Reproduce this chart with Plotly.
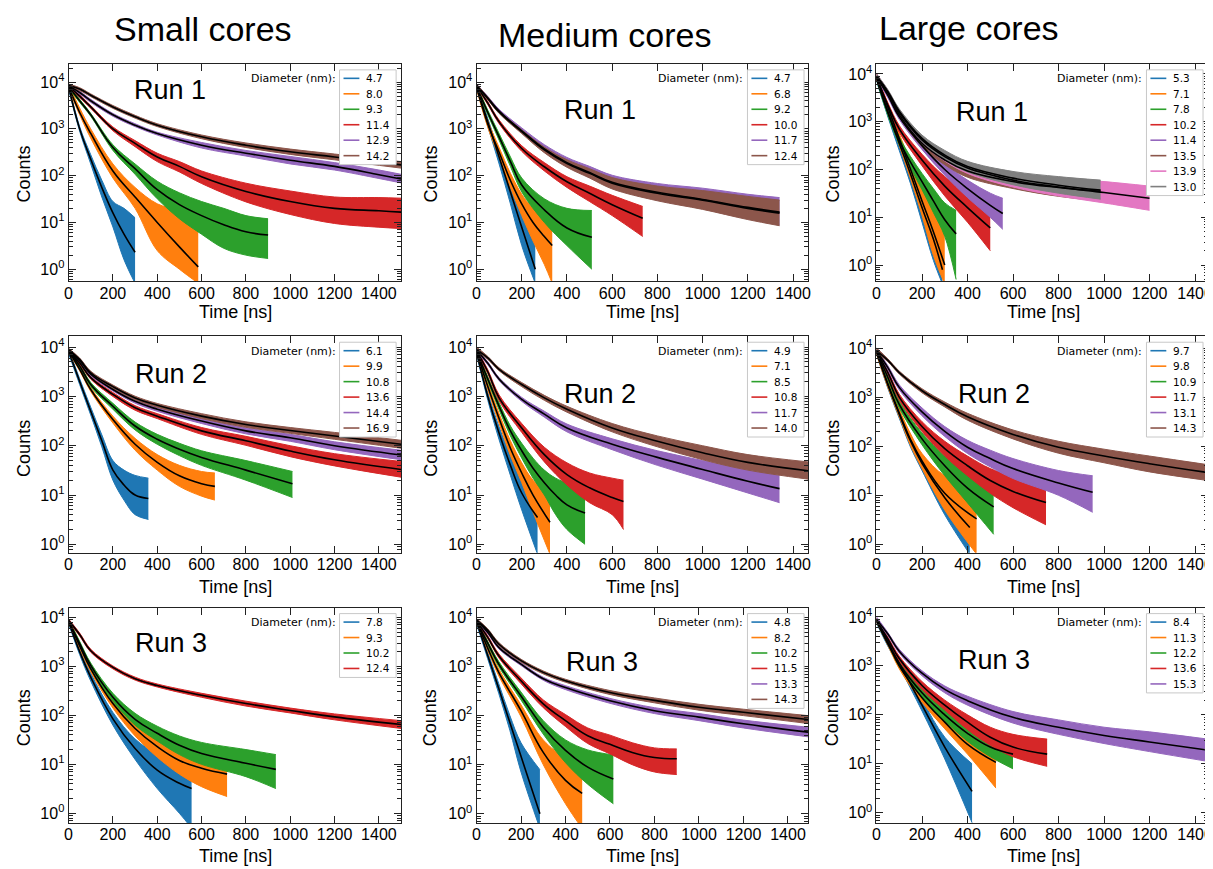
import plotly.graph_objects as go

W, H = 1213, 869
COLORS = ["#1f77b4", "#ff7f0e", "#2ca02c", "#d62728", "#9467bd", "#8c564b", "#e377c2", "#7f7f7f"]

# ---------------- Small cores, Run 1 ----------------
SMALL1_LABELS = ["4.7", "8.0", "9.3", "11.4", "12.9", "14.2"]
SMALL1_T = [
    [0, 50, 100, 150, 200, 250, 300],
    [0, 50, 100, 200, 300, 400, 500, 585],
    [0, 50, 100, 200, 300, 400, 500, 600, 700, 800, 900],
    [0, 50, 100, 200, 300, 400, 500, 600, 800, 1000, 1200, 1400, 1500],
    [0, 50, 100, 200, 300, 400, 600, 800, 1000, 1200, 1400, 1500],
    [0, 50, 100, 200, 300, 400, 600, 800, 1000, 1200, 1500],
]
SMALL1_FIT = [
    [8000, 1000, 224, 56, 16, 5.6, 2.3],
    [8000, 2240, 800, 126, 35, 10, 3.0, 1.12],
    [8000, 4000, 2000, 400, 141, 50, 24, 14, 8.9, 6.3, 5.4],
    [8300, 5000, 2950, 1000, 490, 251, 158, 95, 46, 28, 20, 17.8, 16.6],
    [8300, 6000, 4000, 2000, 1200, 794, 447, 302, 214, 158, 105, 85],
    [8500, 7100, 5250, 2950, 1820, 1200, 676, 447, 324, 251, 170],
]
SMALL1_HI = [
    [8900, 1120, 280, 80, 28, 20, 12.6],
    [8900, 2800, 1000, 178, 56, 25, 18, 12.6],
    [8500, 4300, 2140, 457, 178, 76, 43, 28, 20, 14, 12],
    [8900, 5400, 3160, 1100, 562, 302, 200, 126, 69, 47, 35, 34, 33],
    [8900, 6400, 4300, 2140, 1290, 850, 512, 346, 257, 190, 132, 107],
    [9100, 7600, 5600, 3160, 1950, 1290, 740, 500, 370, 290, 200],
]
SMALL1_LO = [
    [7100, 890, 178, 35, 8, 1.6, 0.5],
    [7100, 2000, 630, 89, 20, 2.5, 1.0, 0.5],
    [7400, 3700, 1860, 347, 107, 32, 12, 5.6, 2.8, 2.0, 1.7],
    [7800, 4700, 2750, 912, 417, 200, 120, 68, 27.5, 14.8, 9.5, 7.9, 7.4],
    [7800, 5600, 3700, 1860, 1120, 740, 390, 263, 178, 132, 87, 70],
    [7900, 6600, 4900, 2750, 1700, 1120, 617, 400, 285, 218, 145],
]

# ---------------- Medium cores, Run 1 ----------------
MEDIUM1_LABELS = ["4.7", "6.8", "9.2", "10.0", "11.7", "12.4"]
MEDIUM1_T = [
    [0, 50, 100, 150, 200, 260],
    [0, 50, 100, 150, 200, 250, 300, 335],
    [0, 50, 100, 150, 200, 300, 400, 510],
    [0, 50, 100, 200, 300, 400, 500, 600, 735],
    [0, 50, 100, 200, 300, 400, 500, 600, 800, 1000, 1200, 1340],
    [0, 50, 100, 200, 300, 400, 500, 600, 800, 1000, 1200, 1340],
]
MEDIUM1_FIT = [
    [8000, 1410, 251, 45, 7.9, 1.0],
    [8000, 1260, 316, 79, 25, 10, 5, 3.2],
    [8000, 2240, 676, 200, 63, 18.6, 7.6, 4.8],
    [8300, 3550, 1410, 380, 155, 74, 42, 24, 12.3],
    [8500, 4570, 2400, 912, 372, 190, 117, 72, 44, 31, 21, 16.6],
    [8500, 4470, 2290, 871, 355, 182, 112, 69, 42, 30, 20, 15.8],
]
MEDIUM1_HI = [
    [8900, 1660, 316, 63, 16, 5],
    [8900, 1480, 400, 112, 40, 20, 14, 12.6],
    [8900, 2500, 794, 251, 89, 32, 20, 18],
    [8900, 3800, 1550, 437, 190, 95, 60, 38, 22],
    [9100, 4950, 2620, 1050, 460, 245, 158, 102, 68, 54, 40, 34],
    [9100, 4800, 2450, 955, 407, 219, 141, 91, 60, 48, 36, 30],
]
MEDIUM1_LO = [
    [7100, 1120, 178, 25, 3.2, 0.5],
    [7100, 1070, 251, 56, 14, 4, 1.26, 0.5],
    [7100, 2000, 575, 158, 45, 10, 3.2, 1.0],
    [7800, 3300, 1290, 331, 126, 56, 28, 14, 5],
    [7900, 4270, 2240, 832, 324, 158, 93, 55, 30, 20, 12, 8.9],
    [7900, 4170, 2140, 794, 309, 151, 89, 52, 29, 19, 11.5, 8.5],
]

# ---------------- Large cores, Run 1 ----------------
LARGE1_LABELS = ["5.3", "7.1", "7.8", "10.2", "11.4", "13.5", "13.9", "13.0"]
LARGE1_T = [
    [0, 50, 100, 150, 200, 250, 290],
    [0, 50, 100, 150, 200, 250, 300],
    [0, 50, 100, 150, 200, 250, 300, 350],
    [0, 50, 100, 200, 300, 400, 500],
    [0, 50, 100, 200, 300, 400, 500, 555],
    [0, 50, 100, 200, 300, 400, 600, 800, 985],
    [0, 50, 100, 200, 300, 400, 600, 800, 1000, 1200],
    [0, 50, 100, 200, 300, 400, 600, 800, 985],
]
LARGE1_FIT = [
    [8000, 1580, 355, 79, 16, 3.5, 0.8],
    [8900, 2000, 447, 100, 22, 5, 1.0],
    [8300, 1580, 398, 141, 56, 22, 8.9, 4.5],
    [8300, 2240, 708, 158, 45, 16, 6],
    [8500, 3550, 1260, 316, 100, 40, 17.8, 12],
    [8900, 4000, 1410, 355, 158, 93, 56, 42, 35],
    [8900, 4170, 1580, 417, 186, 107, 60, 43, 33, 25],
    [8900, 4270, 1660, 447, 200, 115, 66, 47, 37],
]
LARGE1_HI = [
    [8900, 1860, 447, 112, 28, 10, 4],
    [10000, 2340, 562, 141, 40, 14, 5],
    [9300, 1860, 479, 186, 83, 40, 20, 14],
    [9300, 2500, 832, 209, 71, 32, 16],
    [9300, 4000, 1410, 380, 132, 60, 32, 25],
    [10000, 4370, 1580, 417, 200, 126, 79, 63, 56],
    [10000, 4570, 1780, 490, 229, 138, 85, 66, 56, 45],
    [10000, 4680, 1860, 525, 251, 148, 91, 71, 60],
]
LARGE1_LO = [
    [7100, 1260, 251, 50, 7.9, 1.26, 0.4],
    [7900, 1580, 316, 63, 11, 1.6, 0.4],
    [7400, 1350, 331, 107, 38, 12.6, 4, 0.5],
    [7400, 2000, 603, 120, 28, 7.9, 2],
    [7800, 3160, 1120, 263, 76, 26, 10, 5.6],
    [7900, 3630, 1260, 302, 126, 69, 40, 27.5, 22],
    [7900, 3800, 1410, 355, 151, 83, 43, 28, 20, 14],
    [7900, 3890, 1480, 380, 158, 89, 48, 32, 24],
]

# ---------------- Small cores, Run 2 ----------------
SMALL2_LABELS = ["6.1", "9.9", "10.8", "13.6", "14.4", "16.9"]
SMALL2_T = [
    [0, 50, 100, 150, 200, 250, 300, 360],
    [0, 50, 100, 200, 300, 400, 500, 600, 660],
    [0, 50, 100, 200, 300, 400, 500, 600, 800, 1010],
    [0, 50, 100, 200, 300, 400, 600, 800, 1000, 1200, 1500],
    [0, 50, 100, 200, 300, 400, 600, 800, 1000, 1200, 1500],
    [0, 50, 100, 200, 300, 400, 600, 800, 1000, 1200, 1500],
]
SMALL2_FIT = [
    [8300, 2000, 501, 126, 32, 16, 10, 8.5],
    [8300, 3550, 1380, 339, 107, 46, 24.5, 17, 15],
    [8500, 4170, 1740, 631, 251, 135, 85, 58, 32, 17],
    [8500, 4790, 2400, 1100, 589, 398, 200, 126, 78, 52, 33],
    [8700, 5370, 2820, 1380, 794, 550, 316, 200, 145, 100, 65],
    [8900, 5620, 3020, 1580, 933, 661, 398, 269, 204, 158, 107],
]
SMALL2_HI = [
    [9300, 2290, 603, 166, 50, 32, 25, 22],
    [8900, 3800, 1510, 398, 141, 66, 40, 30, 28],
    [9100, 4470, 1910, 724, 302, 170, 112, 79, 50, 30],
    [9100, 5100, 2570, 1200, 650, 447, 234, 155, 100, 69, 48],
    [9300, 5750, 3020, 1480, 860, 600, 355, 229, 170, 120, 81],
    [9500, 6000, 3240, 1700, 1010, 720, 447, 305, 234, 186, 129],
]
SMALL2_LO = [
    [7400, 1740, 417, 95, 20, 7.9, 4, 3.2],
    [7800, 3310, 1260, 288, 81, 32, 15, 9.5, 7.9],
    [7900, 3890, 1580, 550, 209, 107, 63, 40, 20, 8.9],
    [7900, 4470, 2240, 1000, 525, 355, 170, 102, 60, 39, 23],
    [8100, 5010, 2630, 1290, 730, 500, 282, 174, 123, 83, 52],
    [8300, 5250, 2820, 1470, 860, 603, 355, 236, 178, 135, 89],
]

# ---------------- Medium cores, Run 2 ----------------
MEDIUM2_LABELS = ["4.9", "7.1", "8.5", "10.8", "11.7", "14.0"]
MEDIUM2_T = [
    [0, 50, 100, 150, 200, 270],
    [0, 50, 100, 150, 200, 250, 325],
    [0, 50, 100, 150, 200, 250, 300, 350, 400, 480],
    [0, 50, 100, 200, 300, 400, 500, 600, 650],
    [0, 50, 100, 200, 300, 400, 600, 800, 1000, 1200, 1340],
    [0, 50, 100, 200, 300, 400, 600, 800, 1000, 1200, 1466],
]
MEDIUM2_FIT = [
    [8000, 1000, 178, 40, 11, 3.5],
    [8300, 1580, 355, 89, 28, 10, 2.8],
    [8300, 2240, 631, 200, 79, 35, 17.8, 10, 6.3, 4.3],
    [8500, 3160, 933, 229, 66, 26, 14, 8.9, 7.4],
    [8700, 4680, 2240, 871, 437, 229, 107, 58, 33, 19, 13.5],
    [8900, 6030, 3550, 1740, 933, 550, 229, 123, 72, 46, 31],
]
MEDIUM2_HI = [
    [8900, 1200, 240, 63, 22, 11],
    [9300, 1860, 447, 126, 45, 20, 10],
    [9300, 2500, 741, 251, 112, 56, 32, 22, 17.8, 15.8],
    [9100, 3470, 1070, 282, 93, 45, 28, 22, 20],
    [9300, 5000, 2400, 955, 501, 275, 138, 79, 50, 32, 25],
    [10000, 6460, 3800, 1910, 1050, 631, 282, 158, 100, 66, 47],
]
MEDIUM2_LO = [
    [7100, 832, 132, 25, 5, 0.63],
    [7400, 1350, 282, 63, 17.8, 4.5, 0.63],
    [7400, 2000, 537, 158, 56, 22, 10, 4, 2, 1.0],
    [7900, 2880, 813, 186, 47, 16, 7, 4, 2],
    [8100, 4370, 2090, 794, 380, 191, 83, 40, 21, 11, 7],
    [8300, 5620, 3310, 1580, 832, 479, 191, 95, 52, 32, 21],
]

# ---------------- Large cores, Run 2 ----------------
LARGE2_LABELS = ["9.7", "9.8", "10.9", "11.7", "13.1", "14.3"]
LARGE2_T = [
    [0, 50, 100, 150, 200, 300, 410],
    [0, 50, 100, 150, 200, 300, 440],
    [0, 50, 100, 200, 300, 400, 515],
    [0, 50, 100, 200, 300, 400, 500, 600, 745],
    [0, 50, 100, 200, 300, 400, 500, 600, 800, 950],
    [0, 50, 100, 200, 300, 400, 600, 800, 1000, 1200, 1457],
]
LARGE2_FIT = [
    [8300, 1780, 447, 126, 45, 8.9, 2.2],
    [8300, 1860, 479, 135, 50, 11, 3.3],
    [8500, 2510, 708, 141, 40, 14, 5.8],
    [8500, 3160, 1000, 251, 89, 40, 20, 12, 7.1],
    [8700, 3980, 1580, 501, 200, 95, 56, 35, 17.8, 11.5],
    [8900, 5620, 3160, 1350, 708, 398, 174, 95, 63, 44, 29],
]
LARGE2_HI = [
    [9300, 2090, 537, 166, 63, 20, 10],
    [9300, 2190, 575, 178, 71, 25, 14],
    [9300, 2820, 832, 186, 63, 28, 20],
    [9300, 3470, 1150, 316, 126, 63, 35, 25, 20],
    [9300, 4370, 1780, 603, 251, 132, 83, 56, 32, 25],
    [10000, 6030, 3390, 1480, 794, 468, 214, 126, 87, 63, 42],
]
LARGE2_LO = [
    [7400, 1510, 372, 95, 32, 4, 0.63],
    [7400, 1580, 398, 102, 35, 5, 0.63],
    [7800, 2240, 603, 107, 25, 7, 1.6],
    [7800, 2880, 871, 200, 63, 25, 11, 5.6, 2.5],
    [8100, 3630, 1410, 417, 158, 71, 38, 22, 10, 4.5],
    [7900, 5250, 2950, 1230, 631, 339, 141, 72, 46, 30, 20],
]

# ---------------- Small cores, Run 3 ----------------
SMALL3_LABELS = ["7.8", "9.3", "10.2", "12.4"]
SMALL3_T = [
    [0, 50, 100, 200, 300, 400, 500, 555],
    [0, 50, 100, 200, 300, 400, 500, 600, 715],
    [0, 50, 100, 200, 300, 400, 500, 600, 800, 935],
    [0, 50, 100, 200, 300, 400, 600, 800, 1000, 1200, 1500],
]
SMALL3_FIT = [
    [8300, 2000, 603, 85, 21, 7.6, 4.1, 3.2],
    [8500, 2630, 891, 174, 54, 23, 12, 8.3, 6.3],
    [8500, 2950, 1050, 234, 83, 43, 24.5, 16.6, 10.5, 7.9],
    [8700, 4470, 2090, 955, 562, 407, 257, 174, 126, 93, 65],
]
SMALL3_HI = [
    [9300, 2290, 724, 115, 33, 16, 11, 10],
    [9300, 2950, 1020, 214, 74, 35, 22, 17.8, 15.8],
    [9300, 3240, 1170, 282, 110, 60, 38, 28, 20, 15.8],
    [9300, 4790, 2240, 1020, 603, 437, 282, 195, 141, 107, 78],
]
SMALL3_LO = [
    [7400, 1740, 501, 63, 12.6, 3.2, 1.0, 0.5],
    [7800, 2340, 776, 141, 38, 14, 6.3, 3.5, 2.2],
    [7800, 2690, 933, 195, 63, 30, 15.8, 10, 5.6, 3.2],
    [8100, 4170, 1950, 891, 525, 380, 234, 155, 112, 81, 54],
]

# ---------------- Medium cores, Run 3 ----------------
MEDIUM3_LABELS = ["4.8", "8.2", "10.2", "11.5", "13.3", "14.3"]
MEDIUM3_T = [
    [0, 50, 100, 150, 200, 285],
    [0, 50, 100, 200, 300, 400, 475],
    [0, 50, 100, 200, 300, 400, 500, 615],
    [0, 50, 100, 200, 300, 400, 500, 600, 700, 800, 900],
    [0, 50, 100, 200, 300, 400, 600, 800, 1000, 1200, 1490],
    [0, 50, 100, 200, 300, 400, 600, 800, 1000, 1200, 1490],
]
MEDIUM3_FIT = [
    [8300, 1700, 355, 72, 14.8, 1.0],
    [8500, 2400, 759, 126, 17.8, 4.8, 2.6],
    [8500, 3020, 1120, 251, 58, 19.5, 8.9, 5.1],
    [8500, 3980, 1660, 513, 174, 79, 39, 26, 17.8, 14, 13.2],
    [8700, 5010, 2450, 1120, 562, 372, 200, 126, 93, 68, 46],
    [8900, 5500, 2880, 1320, 759, 513, 295, 204, 148, 117, 83],
]
MEDIUM3_HI = [
    [9300, 2000, 447, 100, 28, 7.9],
    [9300, 2690, 891, 166, 32, 14, 11],
    [9300, 3310, 1260, 302, 79, 32, 20, 15.8],
    [9100, 4270, 1820, 589, 209, 105, 56, 40, 28, 22, 21],
    [9300, 5370, 2630, 1200, 603, 407, 224, 145, 110, 81, 58],
    [9500, 5890, 3090, 1410, 813, 550, 324, 229, 170, 135, 100],
]
MEDIUM3_LO = [
    [7400, 1450, 282, 50, 7.1, 0.5],
    [7800, 2140, 646, 95, 10, 1.6, 0.5],
    [7800, 2750, 1000, 209, 42, 11, 4, 1.6],
    [7900, 3720, 1510, 447, 145, 60, 27, 16.6, 10, 7.1, 6.3],
    [8100, 4680, 2290, 1050, 525, 339, 178, 110, 79, 56, 37],
    [8300, 5130, 2690, 1230, 708, 479, 269, 182, 129, 100, 69],
]

# ---------------- Large cores, Run 3 ----------------
LARGE3_LABELS = ["8.4", "11.3", "12.2", "13.6", "15.3"]
LARGE3_T = [
    [0, 50, 100, 200, 300, 420],
    [0, 50, 100, 200, 300, 400, 525],
    [0, 50, 100, 200, 300, 400, 500, 600],
    [0, 50, 100, 200, 300, 400, 500, 600, 750],
    [0, 50, 100, 200, 300, 400, 600, 800, 1000, 1200, 1457],
]
LARGE3_FIT = [
    [8300, 2820, 1120, 158, 22, 2.75],
    [8500, 2950, 1000, 224, 71, 25, 10.7],
    [8500, 3160, 1120, 282, 100, 42, 22, 15.8],
    [8500, 3550, 1410, 398, 158, 71, 35, 22, 15.8],
    [8900, 4470, 2000, 708, 331, 195, 89, 56, 38, 28, 19],
]
LARGE3_HI = [
    [9300, 3160, 1260, 200, 35, 10],
    [9300, 3310, 1150, 275, 95, 40, 20],
    [9300, 3550, 1290, 347, 132, 60, 35, 28],
    [9300, 3890, 1580, 479, 200, 100, 56, 40, 32],
    [10000, 4790, 2190, 794, 389, 240, 117, 79, 56, 45, 32],
]
LARGE3_LO = [
    [7400, 2510, 955, 120, 12.6, 0.63],
    [7800, 2630, 871, 182, 52, 15.8, 3.2],
    [7800, 2820, 977, 229, 76, 29, 14, 7.9],
    [7800, 3240, 1260, 331, 126, 50, 24, 14, 8.9],
    [7900, 4170, 1820, 631, 282, 158, 68, 40, 26, 17.8, 11.2],
]

COLUMN_TITLES = ["Small cores", "Medium cores", "Large cores"]
RUN_TITLES = ["Run 1", "Run 2", "Run 3"]
Y_TICKS = [1, 10, 100, 1000, 10000]
Y_TICKTEXT = ["10<sup>0</sup>", "10<sup>1</sup>", "10<sup>2</sup>", "10<sup>3</sup>", "10<sup>4</sup>"]
X_TICKS = [0, 200, 400, 600, 800, 1000, 1200, 1400]

PANELS = [
    (SMALL1_LABELS, SMALL1_T, SMALL1_FIT, SMALL1_LO, SMALL1_HI),
    (MEDIUM1_LABELS, MEDIUM1_T, MEDIUM1_FIT, MEDIUM1_LO, MEDIUM1_HI),
    (LARGE1_LABELS, LARGE1_T, LARGE1_FIT, LARGE1_LO, LARGE1_HI),
    (SMALL2_LABELS, SMALL2_T, SMALL2_FIT, SMALL2_LO, SMALL2_HI),
    (MEDIUM2_LABELS, MEDIUM2_T, MEDIUM2_FIT, MEDIUM2_LO, MEDIUM2_HI),
    (LARGE2_LABELS, LARGE2_T, LARGE2_FIT, LARGE2_LO, LARGE2_HI),
    (SMALL3_LABELS, SMALL3_T, SMALL3_FIT, SMALL3_LO, SMALL3_HI),
    (MEDIUM3_LABELS, MEDIUM3_T, MEDIUM3_FIT, MEDIUM3_LO, MEDIUM3_HI),
    (LARGE3_LABELS, LARGE3_T, LARGE3_FIT, LARGE3_LO, LARGE3_HI),
]

# ---- layout geometry (screen pixels of the target picture) ----
COL_PX = [(65, 400), (476, 810), (879, 1213)]
ROW_PX = [(62, 280), (335, 552), (607, 823)]
X_RANGES = [[0, 1500], [0, 1466], [0, 1457],
            [0, 1500], [0, 1466], [0, 1457],
            [0, 1500], [0, 1490], [0, 1457]]
Y_RANGES = [[-0.26, 4.39], [-0.26, 4.39], [-0.34, 4.21],
            [-0.17, 4.22], [-0.17, 4.22], [-0.17, 4.24],
            [-0.2, 4.2], [-0.19, 4.2], [-0.21, 4.19]]
RUN_POS = [(167, 88), (600, 108), (995, 110),
           (168, 373), (600, 393), (997, 393),
           (168, 642), (602, 662), (997, 660)]
TITLE_POS = [(200, 27), (605, 33), (972, 26)]
COUNTS_X = [20, 430, 835]
COUNTS_Y = [172, 447, 717]
TIME_X = [233, 643, 1047]
TIME_Y = [311, 586, 856]
LEGEND_RIGHT = [395, 806, 1208]

FONT = "Liberation Sans, Arial, sans-serif"
LFONT = "DejaVu Sans, sans-serif"

# the page body adds an 8 px margin; the figure is sized to end at the window edge
OFF = 8
FW, FH = W - OFF, H - OFF


def px(x):
    return (x - OFF) / FW


def py(y):
    return 1 - (y - OFF) / FH


def note(text, x, y, size, family=FONT, xanchor="center", angle=0):
    return dict(text=text, x=px(x), y=py(y), xref="paper", yref="paper",
                showarrow=False, xanchor=xanchor, yanchor="middle", textangle=angle,
                font=dict(family=family, size=size, color="black"))


fig = go.Figure()
shapes = []
annotations = []

for p, (labels, ts, fits, los, his) in enumerate(PANELS):
    r, c = divmod(p, 3)
    idx = "" if p == 0 else str(p + 1)
    xa, ya = "x" + idx, "y" + idx
    # noisy data: band between lower and upper envelope
    for i in range(len(labels)):
        col = COLORS[i]
        fig.add_trace(go.Scatter(
            x=ts[i], y=los[i], mode="lines",
            line=dict(color=col, width=1, shape="spline", smoothing=1.0),
            xaxis=xa, yaxis=ya, showlegend=False, hoverinfo="skip"))
        fig.add_trace(go.Scatter(
            x=ts[i], y=his[i], mode="lines", fill="tonexty", fillcolor=col,
            line=dict(color=col, width=1, shape="spline", smoothing=1.0),
            xaxis=xa, yaxis=ya, showlegend=False, hoverinfo="skip"))
    # fitted curves
    for i in range(len(labels)):
        fig.add_trace(go.Scatter(
            x=ts[i], y=fits[i], mode="lines",
            line=dict(color="black", width=1.6, shape="spline", smoothing=1.2),
            xaxis=xa, yaxis=ya, showlegend=False, hoverinfo="skip"))

    x0, x1 = COL_PX[c]
    y0, y1 = ROW_PX[r]
    axis_common = dict(showline=True, linecolor="#222", linewidth=1, mirror="allticks",
                       ticks="inside", tickcolor="#222", showgrid=False, zeroline=False,
                       ticklabeloverflow="allow",
                       tickfont=dict(family=FONT, size=16, color="black"))
    fig.update_layout(**{
        "xaxis" + idx: dict(domain=[px(x0), min(1.0, px(x1))], anchor=ya, range=X_RANGES[p],
                            tickvals=X_TICKS, ticklen=7, ticklabelstandoff=-3, **axis_common),
        "yaxis" + idx: dict(domain=[py(y1), py(y0)], anchor=xa, type="log",
                            range=Y_RANGES[p], tickvals=Y_TICKS, ticktext=Y_TICKTEXT,
                            ticklen=7,
                            minor=dict(ticks="inside", ticklen=4, tickcolor="#222",
                                       dtick="D1", showgrid=False),
                            **axis_common),
    })

    annotations.append(note(RUN_TITLES[r], RUN_POS[p][0], RUN_POS[p][1], 27))
    annotations.append(note("Counts", COUNTS_X[c], COUNTS_Y[r], 18, angle=-90))
    annotations.append(note("Time [ns]", TIME_X[c], TIME_Y[r], 18))

    # legend box
    n = len(labels)
    bx1 = LEGEND_RIGHT[c]
    bx0 = bx1 - 57
    by0 = y0 + 6
    by1 = by0 + n * 15.5 + 2
    shapes.append(dict(type="rect", xref="paper", yref="paper",
                       x0=px(bx0), x1=px(bx1), y0=py(by1), y1=py(by0),
                       fillcolor="white", line=dict(color="#c8c8c8", width=1), layer="above"))
    for i in range(n):
        yy = by0 + 8.5 + 15.5 * i
        shapes.append(dict(type="line", xref="paper", yref="paper",
                           x0=px(bx0 + 4), x1=px(bx0 + 20), y0=py(yy), y1=py(yy),
                           line=dict(color=COLORS[i], width=1.6), layer="above"))
        annotations.append(note(labels[i], bx0 + 25, yy, 10.5, family=LFONT, xanchor="left"))
    annotations.append(note("Diameter (nm):", bx0 - 2, by0 + 9, 11, family=LFONT, xanchor="right"))

for c in range(3):
    annotations.append(note(COLUMN_TITLES[c], TITLE_POS[c][0], TITLE_POS[c][1], 34))

fig.update_layout(width=FW, height=FH, margin=dict(l=0, r=0, t=0, b=0),
                  paper_bgcolor="white", plot_bgcolor="white",
                  showlegend=False, shapes=shapes, annotations=annotations)

fig.write_html("out.html")
